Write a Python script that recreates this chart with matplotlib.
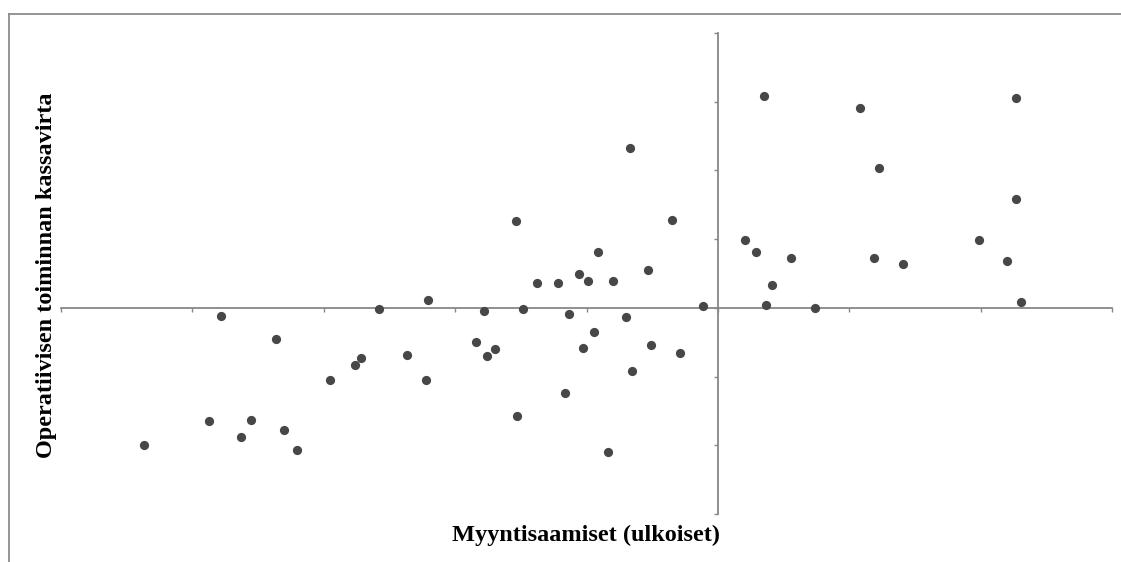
import matplotlib.pyplot as plt
from matplotlib.lines import Line2D

# receivables (x) vs operating cash flow (y), standardised units
saamiset = [-4.37, -3.87, -3.78, -3.63, -3.55, -3.36, -3.30, -3.20, -2.95, -2.76,
            -2.72, -2.58, -2.37, -2.22, -2.21, -1.84, -1.78, -1.76, -1.70, -1.54,
            -1.53, -1.48, -1.38, -1.22, -1.16, -1.13, -1.06, -1.03, -0.99, -0.94,
            -0.91, -0.84, -0.80, -0.70, -0.67, -0.65, -0.53, -0.51, -0.35, -0.29,
            -0.11, 0.21, 0.29, 0.35, 0.37, 0.41, 0.56, 0.74, 1.08, 1.19,
            1.23, 1.41, 1.99, 2.20, 2.27, 2.27, 2.31]
kassavirta = [-1.99, -1.64, -0.12, -1.88, -1.63, -0.45, -1.78, -2.07, -1.05, -0.83,
              -0.73, -0.01, -0.68, -1.05, 0.12, -0.49, -0.04, -0.70, -0.60, 1.27,
              -1.57, -0.01, 0.36, 0.36, -1.24, -0.09, 0.49, -0.58, 0.39, -0.35,
              0.82, -2.10, 0.39, -0.13, 2.33, -0.92, 0.55, -0.54, 1.28, -0.66,
              0.03, 0.99, 0.82, 3.09, 0.04, 0.33, 0.73, 0.00, 2.91, 0.73,
              2.04, 0.64, 0.99, 0.68, 3.06, 1.59, 0.09]

x_ticks = [-5, -4, -3, -2, -1, 0, 1, 2, 3]
y_ticks = [-3, -2, -1, 0, 1, 2, 3, 4]

W, H = 1121, 562
fig = plt.figure(figsize=(W / 100, H / 100), dpi=100)
ax = fig.add_axes([61 / W, 1 - 514 / H, (1112 - 61) / W, (514 - 33) / H])

ax.scatter(saamiset, kassavirta, s=44, color='#474747', zorder=3, linewidths=0)

ax.set_xlim(-5, 3)
ax.set_ylim(-3, 4)
ax.set_xticks(x_ticks)
ax.set_yticks(y_ticks)
ax.set_xticklabels([])
ax.set_yticklabels([])

axis_col = '#878787'
for side in ['top', 'right']:
    ax.spines[side].set_visible(False)
ax.spines['left'].set_position(('data', 0))
ax.spines['bottom'].set_position(('data', 0))
for side in ['left', 'bottom']:
    ax.spines[side].set_color(axis_col)
    ax.spines[side].set_linewidth(1.3)
ax.tick_params(axis='both', direction='out', length=3, width=1, color=axis_col)

# outer chart border (only left and top edges fall inside the image)
fig.add_artist(Line2D([8.5 / W, 8.5 / W], [0, 1 - 13.5 / H], color='#8c8c8c', lw=1.3))
fig.add_artist(Line2D([8.5 / W, 1], [1 - 13.5 / H, 1 - 13.5 / H], color='#8c8c8c', lw=1.3))

fnt = dict(family='Liberation Serif', fontweight='bold', fontsize=17.5)
fig.text(586 / W, 1 - 535 / H, 'Myyntisaamiset (ulkoiset)', ha='center', va='center', **fnt)
fig.text(47 / W, 1 - 275 / H, 'Operatiivisen toiminnan kassavirta', ha='center', va='center',
         rotation=90, **fnt)

fig.savefig('out.png', dpi=100)
